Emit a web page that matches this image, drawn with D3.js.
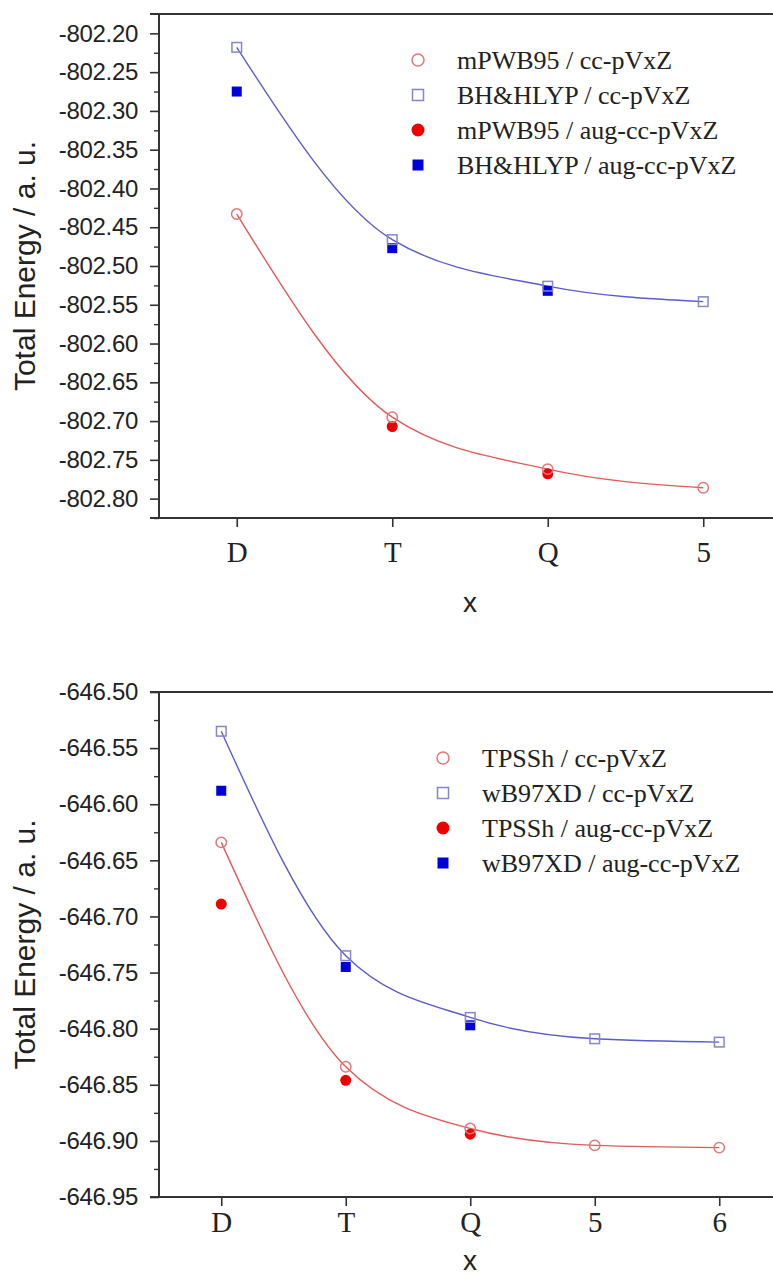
<!DOCTYPE html>
<html>
<head>
<meta charset="utf-8">
<script src="https://cdn.jsdelivr.net/npm/d3@7"></script>
<style>
  html, body { margin: 0; padding: 0; background: #ffffff; }
  svg { display: block; }
</style>
</head>
<body>
<svg id="chart" width="773" height="1276"></svg>
<script>
// ---------- Top panel data ----------
const topCategories = ["D", "T", "Q", "5"];
const topMPWB95cc   = [-802.433, -802.695, -802.762, -802.786];
const topBHHLYPcc   = [-802.218, -802.466, -802.526, -802.546];
const topMPWB95aug  = [null, -802.707, -802.768, null];
const topBHHLYPaug  = [-802.275, -802.477, -802.532, null];
const topYTicks = [-802.20, -802.25, -802.30, -802.35, -802.40, -802.45, -802.50,
                   -802.55, -802.60, -802.65, -802.70, -802.75, -802.80];
const topYDomain = [-802.825, -802.175];
const topLegend = ["mPWB95 / cc-pVxZ", "BH&HLYP / cc-pVxZ", "mPWB95 / aug-cc-pVxZ", "BH&HLYP / aug-cc-pVxZ"];

// ---------- Bottom panel data ----------
const botCategories = ["D", "T", "Q", "5", "6"];
const botTPSShcc    = [-646.634, -646.834, -646.889, -646.904, -646.906];
const botWB97XDcc   = [-646.535, -646.735, -646.790, -646.809, -646.812];
const botTPSShaug   = [-646.689, -646.846, -646.894, null, null];
const botWB97XDaug  = [-646.588, -646.745, -646.797, null, null];
const botYTicks = [-646.50, -646.55, -646.60, -646.65, -646.70, -646.75,
                   -646.80, -646.85, -646.90, -646.95];
const botYDomain = [-646.95, -646.50];
const botLegend = ["TPSSh / cc-pVxZ", "wB97XD / cc-pVxZ", "TPSSh / aug-cc-pVxZ", "wB97XD / aug-cc-pVxZ"];

const yLabel = "Total Energy / a. u.";
const xLabel = "x";

// ---------- styles ----------
const AXIS = "#333333";
const RED_LINE = "#e25a5a", BLUE_LINE = "#5c5cc8";
const RED_OPEN = "#e07878", BLUE_OPEN = "#8585d2";
const RED_FILL = "#ee0000", BLUE_FILL = "#0000d8";

const svg = d3.select("#chart");

function panel(o) {
  const g = svg.append("g");
  const n = o.categories.length;
  const x = d3.scaleLinear().domain([-0.5, n - 0.5]).range([o.left, o.left + n * o.step]);
  const y = d3.scaleLinear().domain(o.yDomain).range([o.bottom, o.top]);

  // minor ticks
  const minor = [];
  for (let i = 0; i < o.yTicks.length; i++) {
    const v = o.yTicks[i] - 0.025;
    if (v >= o.yDomain[0] - 1e-9) minor.push(v);
  }
  const minorAxis = d3.axisLeft(y).tickValues(minor).tickSize(5).tickFormat("");
  const gm = g.append("g").attr("transform", `translate(${o.left},0)`).call(minorAxis);
  gm.select(".domain").remove();
  gm.selectAll("line").attr("stroke", AXIS).attr("stroke-width", 1.4);

  // y axis
  const yAxis = d3.axisLeft(y).tickValues(o.yTicks).tickSize(9).tickPadding(12)
    .tickFormat(d => d.toFixed(2));
  const gy = g.append("g").attr("transform", `translate(${o.left},0)`).call(yAxis);
  gy.select(".domain").remove();
  gy.selectAll("line").attr("stroke", AXIS).attr("stroke-width", 1.6);
  gy.selectAll("text").attr("font-family", "Liberation Sans, Arial, sans-serif")
    .attr("font-size", 24).attr("fill", "#222").attr("letter-spacing", -0.3);

  // x axis
  const xAxis = d3.axisBottom(x).tickValues(d3.range(n)).tickSize(9).tickPadding(o.xPad)
    .tickFormat(i => o.categories[i]);
  const gx = g.append("g").attr("transform", `translate(0,${o.bottom})`).call(xAxis);
  gx.select(".domain").remove();
  gx.selectAll("line").attr("stroke", AXIS).attr("stroke-width", 1.6);
  gx.selectAll("text").attr("font-family", "Liberation Serif, Times New Roman, serif")
    .attr("font-size", 29).attr("fill", "#222");

  // frame lines (left, bottom, top)
  const xr = x.range();
  g.append("line").attr("x1", o.left).attr("x2", o.left).attr("y1", o.top).attr("y2", o.bottom)
    .attr("stroke", AXIS).attr("stroke-width", 2);
  g.append("line").attr("x1", o.left - 9).attr("x2", xr[1]).attr("y1", o.bottom).attr("y2", o.bottom)
    .attr("stroke", AXIS).attr("stroke-width", 2);
  g.append("line").attr("x1", o.left - 9).attr("x2", xr[1]).attr("y1", o.top).attr("y2", o.top)
    .attr("stroke", AXIS).attr("stroke-width", 2);

  // axis titles
  g.append("text")
    .attr("transform", `translate(${o.yLabelX},${(o.top + o.bottom) / 2}) rotate(-90)`)
    .attr("text-anchor", "middle")
    .attr("font-family", "Liberation Sans, Arial, sans-serif").attr("font-size", 30)
    .attr("fill", "#222").text(yLabel);
  g.append("text").attr("x", 470).attr("y", o.xLabelY).attr("text-anchor", "middle")
    .attr("font-family", "Liberation Sans, Arial, sans-serif").attr("font-size", 28)
    .attr("fill", "#222").text(xLabel);

  // fitted curves through open-symbol series
  const line = d3.line().x((d, i) => x(i)).y(d => y(d)).curve(d3.curveMonotoneX);
  g.append("path").attr("d", line(o.s2)).attr("fill", "none").attr("stroke", BLUE_LINE).attr("stroke-width", 1.4);
  g.append("path").attr("d", line(o.s1)).attr("fill", "none").attr("stroke", RED_LINE).attr("stroke-width", 1.4);

  const pts = arr => arr.map((v, i) => ({ i, v })).filter(d => d.v !== null);

  // filled symbols
  g.selectAll(null).data(pts(o.s3)).enter().append("circle")
    .attr("cx", d => x(d.i)).attr("cy", d => y(d.v)).attr("r", 5.5).attr("fill", RED_FILL);
  g.selectAll(null).data(pts(o.s4)).enter().append("rect")
    .attr("x", d => x(d.i) - 5).attr("y", d => y(d.v) - 5).attr("width", 10).attr("height", 10)
    .attr("fill", BLUE_FILL);
  // open symbols
  g.selectAll(null).data(pts(o.s1)).enter().append("circle")
    .attr("cx", d => x(d.i)).attr("cy", d => y(d.v)).attr("r", 5.2)
    .attr("fill", "none").attr("stroke", RED_OPEN).attr("stroke-width", 1.5);
  g.selectAll(null).data(pts(o.s2)).enter().append("rect")
    .attr("x", d => x(d.i) - 4.8).attr("y", d => y(d.v) - 4.8).attr("width", 9.6).attr("height", 9.6)
    .attr("fill", "none").attr("stroke", BLUE_OPEN).attr("stroke-width", 1.5);

  // legend
  const lg = g.append("g");
  o.legend.forEach((lab, k) => {
    const cy = o.legY + k * o.legStep;
    const mx = o.legX;
    if (k === 0) lg.append("circle").attr("cx", mx).attr("cy", cy).attr("r", 6)
      .attr("fill", "none").attr("stroke", RED_OPEN).attr("stroke-width", 1.5);
    if (k === 1) lg.append("rect").attr("x", mx - 5.5).attr("y", cy - 5.5).attr("width", 11).attr("height", 11)
      .attr("fill", "none").attr("stroke", BLUE_OPEN).attr("stroke-width", 1.5);
    if (k === 2) lg.append("circle").attr("cx", mx).attr("cy", cy).attr("r", 6.5).attr("fill", RED_FILL);
    if (k === 3) lg.append("rect").attr("x", mx - 5.5).attr("y", cy - 5.5).attr("width", 11).attr("height", 11)
      .attr("fill", BLUE_FILL);
    lg.append("text").attr("x", mx + 39).attr("y", cy + 9)
      .attr("font-family", "Liberation Serif, Times New Roman, serif").attr("font-size", 26)
      .attr("fill", "#222").text(lab);
  });
}

panel({
  categories: topCategories, s1: topMPWB95cc, s2: topBHHLYPcc, s3: topMPWB95aug, s4: topBHHLYPaug,
  yTicks: topYTicks, yDomain: topYDomain, legend: topLegend,
  left: 159, top: 14, bottom: 518, step: 155.5, xPad: 14,
  yLabelX: 35, xLabelY: 612, legX: 418, legY: 60, legStep: 35
});

panel({
  categories: botCategories, s1: botTPSShcc, s2: botWB97XDcc, s3: botTPSShaug, s4: botWB97XDaug,
  yTicks: botYTicks, yDomain: botYDomain, legend: botLegend,
  left: 159, top: 692, bottom: 1197, step: 124.5, xPad: 5,
  yLabelX: 35, xLabelY: 1270, legX: 443, legY: 758, legStep: 35
});
</script>
</body>
</html>
